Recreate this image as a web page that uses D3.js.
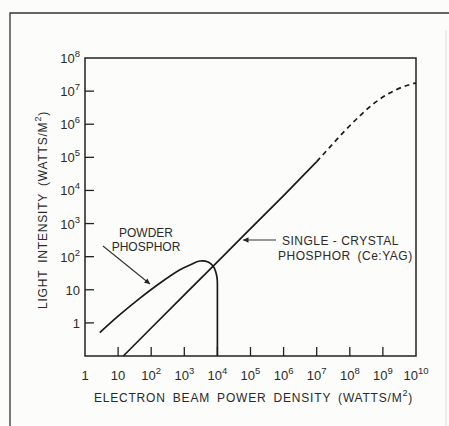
<!DOCTYPE html>
<html>
<head>
<meta charset="utf-8">
<script src="https://cdn.jsdelivr.net/npm/d3@7"></script>
<style>
  body { margin: 0; background: #fcfcfa; }
  text { font-family: 'Liberation Sans', Arial, sans-serif; fill: #2a2a2a; }
</style>
</head>
<body>
<script>
// tick values of both log axes
const xTicks = [1, 1e1, 1e2, 1e3, 1e4, 1e5, 1e6, 1e7, 1e8, 1e9, 1e10]
const xExponents = ['', '', '2', '3', '4', '5', '6', '7', '8', '9', '10']
const yTicks = [1, 1e1, 1e2, 1e3, 1e4, 1e5, 1e6, 1e7, 1e8]
const yExponents = ['', '', '2', '3', '4', '5', '6', '7', '8']

// single crystal phosphor (Ce:YAG), solid part
const crystalPower = [14.4, 1e2, 1e3, 1e4, 1e5, 1e6, 1e7]
const crystalLight = [0.1, 0.7, 7, 70, 700, 7000, 7.4e4]
// single crystal, dashed (extrapolated) part
const crystalDashPower = [1e7, 2.5e7, 6.3e7, 2e8, 6.3e8, 2.5e9, 1e10]
const crystalDashLight = [7.4e4, 2.04e5, 5.6e5, 1.78e6, 4.8e6, 1.1e7, 1.78e7]

// powder phosphor
const powderPower = [2.8, 10, 46, 186, 740, 1480, 2950, 5250, 7400, 8900, 9800, 1e4]
const powderLight = [0.51, 1.6, 5.6, 16, 40, 56, 74, 69, 52, 35, 22, 15]
const powderDropLight = [15, 0.1]

let width = 449
let height = 426
let margin = {left: 85, right: 33, top: 58, bottom: 70}

const svg = d3.select('body').append('svg').attr('width', width).attr('height', height)

const xScale = d3.scaleLog().domain([1, 1e10]).range([margin.left, width - margin.right])
const yScale = d3.scaleLog().domain([0.1, 1e8]).range([height - margin.bottom, margin.top])

// outer frame of the figure
svg.append('path')
  .attr('d', `M10,${height} L10,13 L${width},13`)
  .attr('fill', 'none').attr('stroke', '#333').attr('stroke-width', 1.3)
svg.append('line')
  .attr('x1', 446).attr('x2', 446).attr('y1', 30).attr('y2', height)
  .attr('stroke', '#ddd').attr('stroke-width', 1)

// plot box
svg.append('rect')
  .attr('x', xScale(1)).attr('y', yScale(1e8))
  .attr('width', xScale(1e10) - xScale(1)).attr('height', yScale(0.1) - yScale(1e8))
  .attr('fill', 'none').attr('stroke', '#222').attr('stroke-width', 1.5)

// inward ticks
svg.append('g')
  .selectAll('line')
  .data(xTicks.slice(1, -1))
  .enter()
  .append('line')
  .attr('x1', d => xScale(d)).attr('x2', d => xScale(d))
  .attr('y1', yScale(0.1)).attr('y2', yScale(0.1) - 9)
  .attr('stroke', '#222').attr('stroke-width', 1.3)

svg.append('g')
  .selectAll('line')
  .data(yTicks.slice(0, -1))
  .enter()
  .append('line')
  .attr('y1', d => yScale(d)).attr('y2', d => yScale(d))
  .attr('x1', xScale(1)).attr('x2', xScale(1) + 9)
  .attr('stroke', '#222').attr('stroke-width', 1.3)

// tick labels
const xLab = svg.append('g')
  .selectAll('text')
  .data(xTicks)
  .enter()
  .append('text')
  .attr('x', d => xScale(d))
  .attr('y', yScale(0.1) + 24)
  .attr('text-anchor', 'middle')
  .style('font-size', '13px')
xLab.append('tspan').text(d => d === 1 ? '1' : '10')
xLab.append('tspan').attr('dy', -6).style('font-size', '9.5px').text((d, i) => xExponents[i])

const yLab = svg.append('g')
  .selectAll('text')
  .data(yTicks)
  .enter()
  .append('text')
  .attr('x', xScale(1) - 5)
  .attr('y', d => yScale(d) + 5)
  .attr('text-anchor', 'end')
  .style('font-size', '13px')
yLab.append('tspan').text(d => d === 1 ? '1' : '10')
yLab.append('tspan').attr('dy', -6).style('font-size', '9.5px').text((d, i) => yExponents[i])

// axis titles
const xTitle = svg.append('text')
  .attr('x', (xScale(1) + xScale(1e10)) / 2 + 3)
  .attr('y', 402)
  .attr('text-anchor', 'middle')
  .style('font-size', '12px').style('letter-spacing', '0.8px').style('word-spacing', '3px')
xTitle.append('tspan').text('ELECTRON BEAM POWER DENSITY (WATTS/M')
xTitle.append('tspan').attr('dy', -6).style('font-size', '9px').text('2')
xTitle.append('tspan').attr('dy', 6).text(')')

const yTitle = svg.append('text')
  .attr('transform', `translate(47,${(yScale(0.1) + yScale(1e8)) / 2 + 3}) rotate(-90)`)
  .attr('text-anchor', 'middle')
  .style('font-size', '12px').style('letter-spacing', '0.8px').style('word-spacing', '3px')
yTitle.append('tspan').text('LIGHT INTENSITY (WATTS/M')
yTitle.append('tspan').attr('dy', -6).style('font-size', '9px').text('2')
yTitle.append('tspan').attr('dy', 6).text(')')

// curves
const line = d3.line()
  .x(d => xScale(d[0]))
  .y(d => yScale(d[1]))

svg.append('path')
  .datum(crystalPower.map((p, i) => [p, crystalLight[i]]))
  .attr('d', line)
  .attr('fill', 'none').attr('stroke', '#1a1a1a').attr('stroke-width', 1.7)

svg.append('path')
  .datum(crystalDashPower.map((p, i) => [p, crystalDashLight[i]]))
  .attr('d', line.curve(d3.curveMonotoneX))
  .attr('fill', 'none').attr('stroke', '#1a1a1a').attr('stroke-width', 1.7)
  .attr('stroke-dasharray', '5,4')

svg.append('path')
  .datum(powderPower.map((p, i) => [p, powderLight[i]]))
  .attr('d', d3.line().x(d => xScale(d[0])).y(d => yScale(d[1])).curve(d3.curveCatmullRom))
  .attr('fill', 'none').attr('stroke', '#1a1a1a').attr('stroke-width', 1.7)

svg.append('path')
  .datum(powderDropLight.map(v => [1e4, v]))
  .attr('d', d3.line().x(d => xScale(d[0])).y(d => yScale(d[1])))
  .attr('fill', 'none').attr('stroke', '#1a1a1a').attr('stroke-width', 1.7)

// annotations
svg.append('defs').append('marker')
  .attr('id', 'arrow').attr('viewBox', '0 0 10 10')
  .attr('refX', 10).attr('refY', 5)
  .attr('markerWidth', 7).attr('markerHeight', 5).attr('orient', 'auto')
  .append('path').attr('d', 'M0,0 L10,5 L0,10 Z').attr('fill', '#222')

svg.append('text').attr('x', 146).attr('y', 237).attr('text-anchor', 'middle')
  .style('font-size', '12px').text('POWDER')
svg.append('text').attr('x', 146).attr('y', 251).attr('text-anchor', 'middle')
  .style('font-size', '12px').text('PHOSPHOR')
svg.append('line')
  .attr('x1', 103).attr('y1', 246).attr('x2', 150).attr('y2', 284)
  .attr('stroke', '#333').attr('stroke-width', 1.1).attr('marker-end', 'url(#arrow)')

svg.append('text').attr('x', 282).attr('y', 245)
  .style('font-size', '12px').style('letter-spacing', '0.5px').text('SINGLE - CRYSTAL')
svg.append('text').attr('x', 278).attr('y', 260)
  .style('font-size', '12px').style('letter-spacing', '0.5px').style('word-spacing', '3px').text('PHOSPHOR (Ce:YAG)')
svg.append('line')
  .attr('x1', 276).attr('y1', 240).attr('x2', 243).attr('y2', 240)
  .attr('stroke', '#333').attr('stroke-width', 1.1).attr('marker-end', 'url(#arrow)')
</script>
</body>
</html>
